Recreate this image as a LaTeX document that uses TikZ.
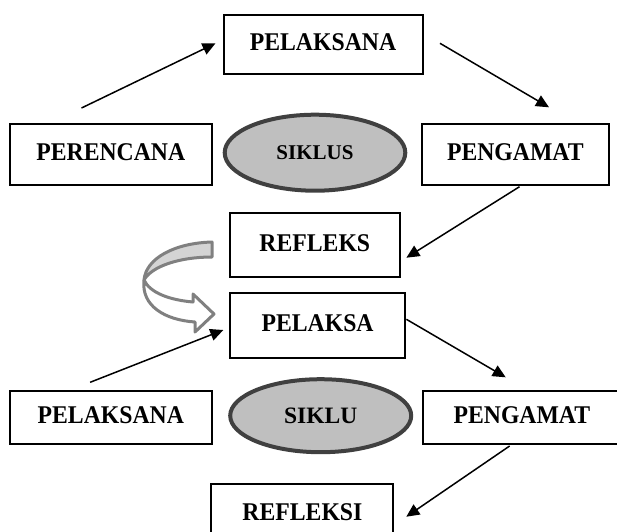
\documentclass[tikz,border=0pt]{standalone}
\usepackage{fontspec}
\setmainfont{Liberation Serif}
\newfontfamily\tallfont[FakeStretch=0.93]{Liberation Serif}
\usetikzlibrary{arrows.meta,shapes.geometric}

\tikzset{
  kotak/.style={draw, line width=2pt, inner sep=0pt, text height=17pt, text depth=5pt,
    font={\tallfont\bfseries\fontsize{25.5}{30}\selectfont}},
  siklus/.style={ellipse, draw=black!75, line width=4pt, fill=black!25,
    inner sep=0pt, minimum width=180.6pt, minimum height=76pt,
    font={\bfseries\fontsize{21}{25}\selectfont}},
  panah/.style={line width=1.5pt, -{Triangle[length=13pt,width=12pt]}},
  lengkung/.style={draw=black!50, line width=3pt, line join=round}
}

\begin{document}
\begin{tikzpicture}[x=1pt, y=-1pt]
\useasboundingbox (0,0) rectangle (617,531);
\clip (0,0) rectangle (617,531);

% siklus pertama
\node[kotak, minimum width=199pt, minimum height=59pt] (pel) at (323,44.7) {PELAKSANA};
\node[kotak, minimum width=202pt, minimum height=61pt] (per) at (110.8,154.5) {PERENCANA};
\node[siklus] (sik) at (315,152.7) {SIKLUS};
\node[kotak, minimum width=187pt, minimum height=61pt] (peng) at (515.3,154.5) {PENGAMAT};
\node[kotak, minimum width=170pt, minimum height=64pt] (refl) at (314.8,245) {REFLEKS};

% siklus kedua
\node[kotak, minimum width=175.6pt, minimum height=64.4pt] (pelk) at (317.6,325.5) {PELAKSA};
\node[kotak, minimum width=202pt, minimum height=53pt] (pel2) at (110.8,417.5) {PELAKSANA};
\node[siklus, minimum width=181pt, minimum height=73pt, font={\bfseries\fontsize{23.5}{28}\selectfont}] (sik2) at (320.7,415.7) {SIKLU};
\node[kotak, anchor=west, minimum height=53pt, text width=280pt, align=left] (peng2) at (421.9,417.5) {\hspace*{30.7pt}PENGAMAT};
\node[kotak, minimum width=182pt, minimum height=60pt] (refl2) at (302.4,514) {REFLEKSI};

% panah
\draw[panah] ([shift={(-29.3,-15)}]per.north) -- ([shift={(-7,-1.4)}]pel.west);
\draw[panah] ([shift={(16.5,-1.4)}]pel.east) -- ([shift={(33.7,-15.7)}]peng.north);
\draw[panah] ([shift={(4.2,0.7)}]peng.south) -- ([shift={(5.6,12.7)}]refl.east);
\draw[panah] ([shift={(-20.7,-7.7)}]pel2.north) -- ([shift={(-5.5,4.5)}]pelk.west);
\draw[panah] ([shift={(0,-6.2)}]pelk.east) -- ([shift={(83.8,-12.7)}]peng2.north west);
\draw[panah] ([shift={(87.7,1)}]peng2.south west) -- ([shift={(11.9,2.7)}]refl2.east);

% panah lengkung
\path[lengkung, fill=white] (144,280) .. controls (150,293) and (170,300) .. (193,302)
  -- (193,294) -- (214,314) -- (195,332) -- (195,322)
  .. controls (165,320) and (141,306) .. (144,280) -- cycle;
\path[lengkung, fill=black!17] (212,242) .. controls (175,243) and (146,258) .. (144,280)
  .. controls (152,266) and (180,257) .. (212,257) -- cycle;
\end{tikzpicture}
\end{document}
